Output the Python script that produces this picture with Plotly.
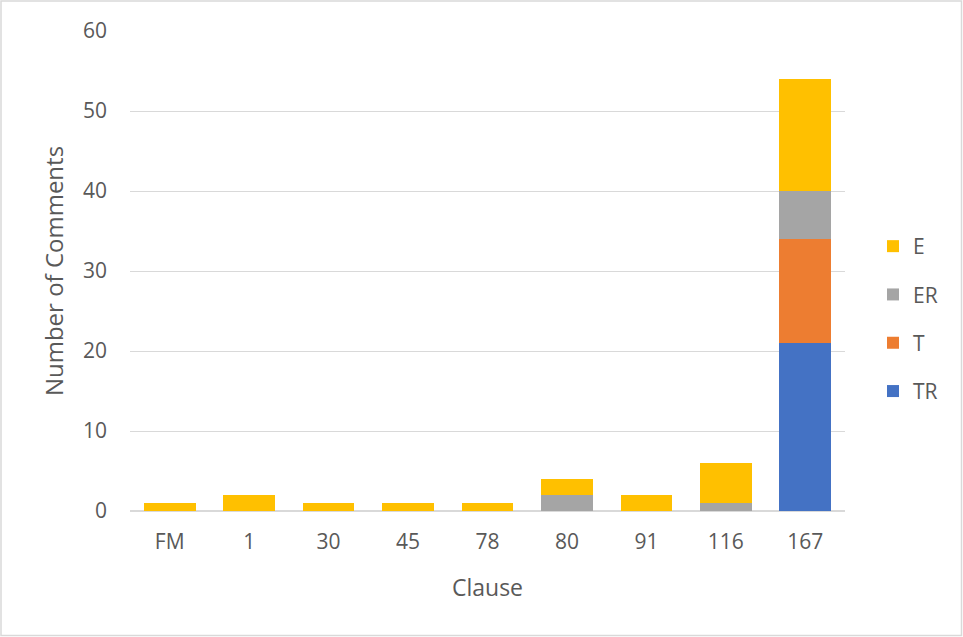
import plotly.graph_objects as go

categories = ["FM", "1", "30", "45", "78", "80", "91", "116", "167"]
TR = [0, 0, 0, 0, 0, 0, 0, 0, 21]
T = [0, 0, 0, 0, 0, 0, 0, 0, 13]
ER = [0, 0, 0, 0, 0, 2, 0, 1, 6]
E = [1, 2, 1, 1, 1, 2, 2, 5, 14]

series = [("TR", TR, "#4472C4", 4), ("T", T, "#ED7D31", 3), ("ER", ER, "#A5A5A5", 2), ("E", E, "#FFC000", 1)]

fig = go.Figure()
for name, vals, color, rank in series:
    fig.add_trace(go.Bar(x=categories, y=vals, name=name, marker_color=color,
                         marker_line_width=0, legendgroup=name, legendrank=rank))

W, H = 963, 637
ml, mr, mt, mb = 130, 118, 31, 126
pw, ph = W - ml - mr, H - mt - mb

font_family = "Open Sans, Liberation Sans, sans-serif"
gray = "#595959"

fig.update_layout(
    width=W, height=H,
    margin=dict(l=ml, r=mr, t=mt, b=mb),
    barmode="stack", bargap=0.35,
    plot_bgcolor="white", paper_bgcolor="white",
    font=dict(family=font_family, color=gray, size=21),
    legend=dict(x=(873 - ml) / pw, y=(H - mb - 226) / ph, xanchor="left", yanchor="top",
                traceorder="grouped", tracegroupgap=18, font=dict(size=21, color=gray),
                itemwidth=30),
    xaxis=dict(title=dict(text="Clause", font=dict(size=23, color=gray), standoff=25),
               showline=True, linecolor="#d9d9d9", linewidth=1, ticks="",
               ticklabelstandoff=12,
               tickfont=dict(size=21, color=gray)),
    yaxis=dict(title=dict(text="Number of Comments", font=dict(size=24, color=gray), standoff=12),
               range=[0, 60], dtick=10, gridcolor="#d9d9d9", gridwidth=1,
               zeroline=True, zerolinecolor="#d9d9d9", ticks="", ticklabelstandoff=22,
               tickfont=dict(size=21, color=gray)),
    shapes=[dict(type="rect", xref="paper", yref="paper",
                 x0=(-ml + 1) / pw, x1=(W - ml - 1.5) / pw,
                 y0=(-mb + 1.5) / ph, y1=(H - mb - 1) / ph,
                 line=dict(color="#d9d9d9", width=1.5), layer="below")],
)

fig.write_html("out.html", config={"displayModeBar": False})
with open("out.html", "r", encoding="utf-8") as f:
    html = f.read()
html = html.replace("<head>", "<head><style>html,body{margin:0;padding:0;overflow:hidden;}</style>", 1)
with open("out.html", "w", encoding="utf-8") as f:
    f.write(html)
